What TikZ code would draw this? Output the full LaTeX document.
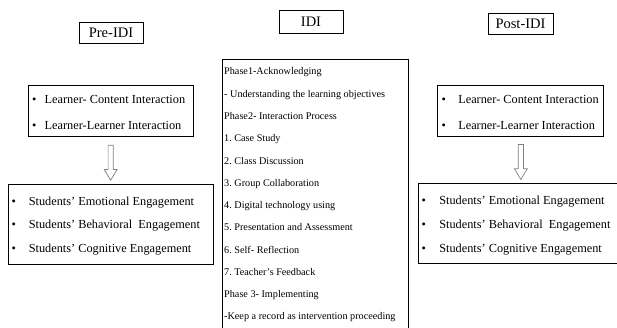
\documentclass[tikz,border=0pt]{standalone}
\usepackage{fontspec}
\setmainfont{Liberation Serif}
\usetikzlibrary{shapes.arrows,calc}

\frenchspacing
\newcommand\itembullet[1][12.5pt]{\makebox[#1][l]{\textbullet}}

\tikzset{
    titlebox/.style={draw, line width=0.8pt, inner sep=0pt, minimum height=21pt,
        font=\fontsize{14.5}{17}\selectfont},
    listbox/.style={draw, line width=0.8pt, inner sep=0pt},
    item/.style={anchor=base west, inner sep=0pt, font=\fontsize{12.3}{14}\selectfont},
    phase/.style={anchor=base west, inner sep=0pt, font=\fontsize{10.2}{12}\selectfont},
    hollowarrow/.style={draw=gray, line width=0.7pt, single arrow, rotate=-90,
        inner sep=2.25pt, minimum height=35pt, single arrow head extend=3.75pt,
        single arrow tip angle=62}
}

\begin{document}
\begin{tikzpicture}[x=1pt,y=-1pt]
    \useasboundingbox (0,0) rectangle (617,328);
    \clip (0,0) rectangle (617,328);

    % column titles
    \node[titlebox, minimum width=64pt] (preTitle) at (111,33) {Pre-IDI};
    \node[titlebox, minimum width=64pt, minimum height=23pt] (idiTitle) at (311,21.5) {IDI};
    \node[titlebox, minimum width=65pt] (postTitle) at (520.5,24) {Post-IDI};

    % before the intervention
    \node[listbox, minimum width=165pt, minimum height=51.5pt] (preIn) at (110.5,110.75) {};
    \node[item] (preIn1) at (32,104) {\itembullet Learner- Content Interaction};
    \node[item] (preIn2) at (32,130) {\itembullet Learner-Learner Interaction};
    \node[listbox, minimum width=204.8pt, minimum height=79.5pt] (preOut) at (110.9,224.25) {};
    \node[item] (preOut1) at (11.5,205.5) {\itembullet[14pt] Students' Emotional Engagement};
    \node[item] (preOut2) at (11.5,229) {\itembullet[14pt] Students' Behavioral\ \ Engagement};
    \node[item] (preOut3) at (11.5,252.5) {\itembullet[14pt] Students' Cognitive Engagement};
    \node[hollowarrow] (preArrow) at ($(preIn.south)!.5!(preOut.north)$) {};

    % the intervention itself
    \node[listbox, minimum width=186pt, minimum height=275pt, anchor=north west] (idiBox) at (222,59.5) {};
    \foreach \txt [count=\i] in {Phase1-Acknowledging,
            - Understanding the learning objectives,
            Phase2- Interaction Process,
            1. Case Study,
            2. Class Discussion,
            3. Group Collaboration,
            4. Digital technology using,
            5. Presentation and Assessment,
            6. Self- Reflection,
            7. Teacher's Feedback,
            Phase 3- Implementing,
            -Keep a record as intervention proceeding}
        \node[phase] (idi\i) at (224,{52.74+22.26*\i}) {\txt};

    % after the intervention
    \node[listbox, minimum width=166pt, minimum height=51.5pt] (postIn) at (520,110.75) {};
    \node[item] (postIn1) at (441.5,104) {\itembullet[13.5pt] Learner- Content Interaction};
    \node[item] (postIn2) at (441.5,130) {\itembullet[13.5pt] Learner-Learner Interaction};
    \node[listbox, minimum width=206.7pt, minimum height=80.5pt] (postOut) at (521.65,223.25) {};
    \node[item] (postOut1) at (421.5,205) {\itembullet[14.5pt] Students' Emotional Engagement};
    \node[item] (postOut2) at (421.5,228.5) {\itembullet[14.5pt] Students' Behavioral\ \ Engagement};
    \node[item] (postOut3) at (421.5,252) {\itembullet[14.5pt] Students' Cognitive Engagement};
    \node[hollowarrow] (postArrow) at ($(postIn.south)!.5!(postOut.north)$) {};
\end{tikzpicture}
\end{document}
